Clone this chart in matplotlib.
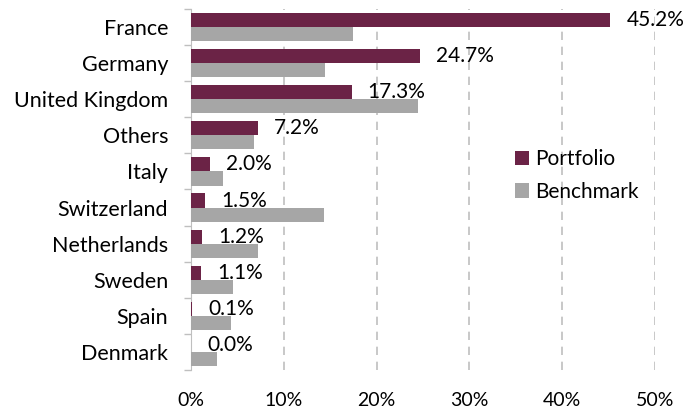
import numpy as np
import matplotlib.pyplot as plt
from matplotlib.ticker import FixedLocator

countries = ["France", "Germany", "United Kingdom", "Others", "Italy",
             "Switzerland", "Netherlands", "Sweden", "Spain", "Denmark"]
portfolio = [45.2, 24.7, 17.3, 7.2, 2.0, 1.5, 1.2, 1.1, 0.1, 0.0]
benchmark = [17.5, 14.4, 24.5, 6.8, 3.5, 14.3, 7.2, 4.5, 4.3, 2.8]
xticks = [0, 10, 20, 30, 40, 50]

PORT_COLOR = "#6B2346"
BENCH_COLOR = "#A6A6A6"
plt.rcParams["font.family"] = ["Lato", "DejaVu Sans"]

fig = plt.figure(figsize=(6.86, 4.09), dpi=100)
ax = fig.add_axes([191 / 686, 1 - 370 / 409, 464 / 686, 361 / 409])

y = np.arange(len(countries))
h = 0.39
ax.barh(y - h / 2, portfolio, height=h, color=PORT_COLOR, label="Portfolio", zorder=3)
ax.barh(y + h / 2, benchmark, height=h, color=BENCH_COLOR, label="Benchmark", zorder=3)

for yi, v in zip(y, portfolio):
    ax.annotate(f"{v:.1f}%", (v, yi - h / 2), xytext=(11.5, 0),
                textcoords="offset points", va="center", ha="left",
                fontsize=15, color="#000000", annotation_clip=False, zorder=4)

ax.set_ylim(len(countries) - 0.5, -0.5)
ax.set_xlim(0, 50)
ax.set_yticks(y)
ax.set_yticklabels(countries, fontsize=15.5)
ax.yaxis.set_minor_locator(FixedLocator(np.arange(-0.5, len(countries), 1)))
ax.tick_params(axis="y", which="major", length=0, pad=16.5)
ax.tick_params(axis="y", which="minor", length=5, color="#BFBFBF", width=1)

ax.set_xticks(xticks)
ax.set_xticklabels([f"{t}%" for t in xticks], fontsize=14)
ax.tick_params(axis="x", length=0, pad=16)
ax.grid(axis="x", linestyle=(0, (5, 4)), color="#BFBFBF", linewidth=1.2, zorder=0)

for s in ["top", "right", "bottom"]:
    ax.spines[s].set_visible(False)
ax.spines["left"].set_color("#BFBFBF")

ax.legend(loc="center left", bbox_to_anchor=(0.657, 0.539), frameon=False,
          fontsize=15, handlelength=0.7, handleheight=0.7, handletextpad=0.3,
          labelspacing=0.6)

fig.savefig("out.png", dpi=100)
